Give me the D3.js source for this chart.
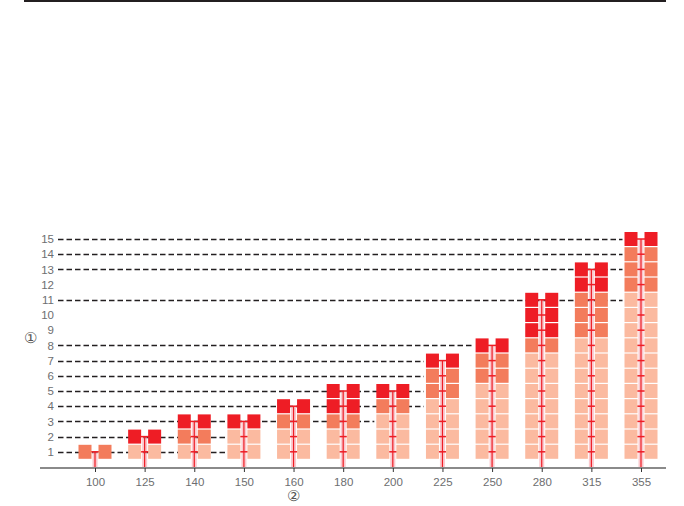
<!DOCTYPE html>
<html>
<head>
<meta charset="utf-8">
<script src="https://cdn.jsdelivr.net/npm/d3@7"></script>
<style>
  html, body { margin: 0; padding: 0; background: #fff; }
  svg { display: block; }
  text { font-family: "Liberation Sans", Arial, sans-serif; }
</style>
</head>
<body>
<svg id="chart" width="684" height="506"></svg>
<script>
// ---- data ----
const categories = ["100","125","140","150","160","180","200","225","250","280","315","355"];
const lightCount  = [0, 1, 1, 2, 2, 2, 3, 4, 5, 7, 8, 11];
const mediumCount = [1, 0, 1, 0, 1, 1, 1, 2, 2, 1, 3, 3];
const redCount    = [0, 1, 1, 1, 1, 2, 1, 1, 1, 3, 2, 1];
const yTicks = [1,2,3,4,5,6,7,8,9,10,11,12,13,14,15];
const gridLevels = [1, 2, 3, 4, 5, 6, 7, 8, 11, 13, 14, 15];
const gridStopAt = ["150","150","200","225","225","225","225","250","355","355","355","355"];
const yLabel = "①";
const xLabel = "②";

// ---- styles ----
const colors = { light: "#fbbaa0", medium: "#f37c5c", red: "#ee1d25" };

const svg = d3.select("#chart");

const x = d3.scalePoint().domain(categories).range([95, 641]);
const y = d3.scaleLinear().domain([0, 15]).range([467, 239]);

const blockW = 13, blockH = 14, colOff = 3.5;

// top rule
svg.append("line").attr("x1", 24).attr("x2", 666).attr("y1", 1).attr("y2", 1)
  .attr("stroke", "#231f20").attr("stroke-width", 2);

// gridlines
gridLevels.forEach((lv, i) => {
  svg.append("line")
    .attr("x1", 58).attr("x2", x(gridStopAt[i]) - colOff - blockW - 2)
    .attr("y1", Math.round(y(lv)) + 0.5).attr("y2", Math.round(y(lv)) + 0.5)
    .attr("stroke", "#231f20").attr("stroke-width", 1.3)
    .attr("stroke-dasharray", "5.5,3");
});

// y axis labels
const yAxis = d3.axisLeft(y).tickValues(yTicks).tickSize(0).tickPadding(0);
const yg = svg.append("g").attr("transform", "translate(54,0)").call(yAxis);
yg.select(".domain").remove();
yg.selectAll("text").attr("font-size", 11.5).attr("fill", "#6d6e70")
  .attr("font-family", "Liberation Sans, Arial, sans-serif");

svg.append("text").attr("x", 30).attr("y", 338).attr("dy", "0.35em")
  .attr("text-anchor", "middle").attr("font-size", 15).attr("fill", "#555").text(yLabel);

// per-category stacks
categories.forEach((c, i) => {
  const cx = x(c);
  const total = lightCount[i] + mediumCount[i] + redCount[i];
  const g = svg.append("g");
  // halo + vertical red line
  g.append("rect").attr("x", cx - 2.5).attr("width", 5)
    .attr("y", y(total)).attr("height", y(0) - y(total))
    .attr("fill", "#f7a3ab").attr("opacity", 0.6);
  g.append("line").attr("x1", cx).attr("x2", cx).attr("y1", y(total)).attr("y2", y(0))
    .attr("stroke", colors.red).attr("stroke-width", 1.2);
  // horizontal ticks
  d3.range(1, total + 1).forEach(lv => {
    g.append("line").attr("x1", cx - 7).attr("x2", cx + 7)
      .attr("y1", y(lv)).attr("y2", y(lv))
      .attr("stroke", colors.red).attr("stroke-width", 1.5);
  });
  // blocks
  const blocks = [];
  for (let k = 0; k < lightCount[i]; k++) blocks.push("light");
  for (let k = 0; k < mediumCount[i]; k++) blocks.push("medium");
  for (let k = 0; k < redCount[i]; k++) blocks.push("red");
  [-1, 1].forEach(side => {
    const bx = side < 0 ? cx - colOff - blockW : cx + colOff;
    g.selectAll(null).data(blocks).enter().append("rect")
      .attr("x", bx).attr("width", blockW)
      .attr("y", (d, k) => y(k + 1) - blockH / 2).attr("height", blockH)
      .attr("fill", d => colors[d]);
  });
});

// x axis
svg.append("line").attr("x1", 40).attr("x2", 666).attr("y1", 468).attr("y2", 468)
  .attr("stroke", "#8a8a8a").attr("stroke-width", 2);
const xAxis = d3.axisBottom(x).tickSize(4).tickPadding(6);
const xg = svg.append("g").attr("transform", "translate(0,468)").call(xAxis);
xg.select(".domain").remove();
xg.selectAll(".tick line").attr("stroke", "#333").attr("stroke-width", 1);
xg.selectAll("text").attr("font-size", 11.5).attr("fill", "#6d6e70")
  .attr("font-family", "Liberation Sans, Arial, sans-serif");

svg.append("text").attr("x", x("160")).attr("y", 496).attr("dy", "0.35em")
  .attr("text-anchor", "middle").attr("font-size", 15).attr("fill", "#555").text(xLabel);
</script>
</body>
</html>
